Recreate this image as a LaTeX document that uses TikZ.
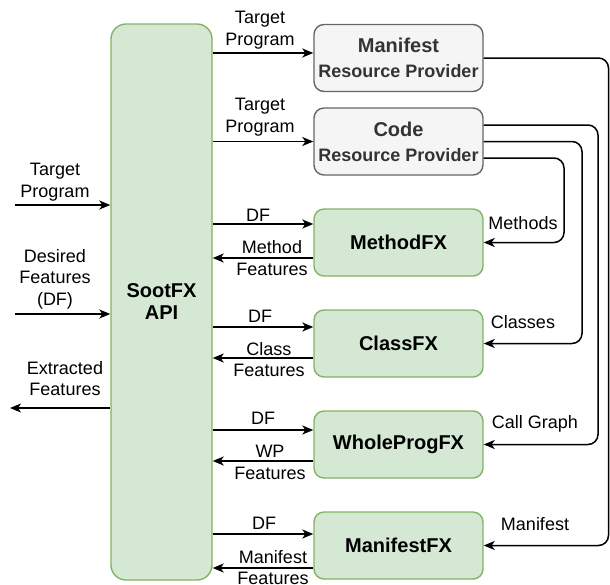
\documentclass[tikz,border=0pt]{standalone}
\usepackage{fontspec}
\setmainfont{Liberation Sans}
\usetikzlibrary{arrows.meta}
\definecolor{gfill}{HTML}{D5E8D4}
\definecolor{gline}{HTML}{82B366}
\definecolor{hfill}{HTML}{F5F5F5}
\definecolor{hline}{HTML}{666666}
\definecolor{htext}{HTML}{333333}
\tikzset{
  greenbox/.style={draw=gline, fill=gfill, line width=1.4pt, rounded corners=10pt, minimum width=169pt, minimum height=67pt, inner sep=0pt, font=\fontsize{20}{24}\selectfont\bfseries},
  greybox/.style={draw=hline, fill=hfill, line width=1.4pt, rounded corners=10pt, minimum width=169pt, minimum height=67pt, inner sep=0pt, text=htext, align=center, font=\fontsize{18}{25}\selectfont\bfseries},
  arr/.style={line width=1.5pt, -{Stealth[length=11pt,width=9pt,inset=3pt]}},
  wire/.style={line width=1.5pt, rounded corners=10pt, -{Stealth[length=11pt,width=9pt,inset=3pt]}},
  lbl/.style={align=center, inner sep=0pt, font=\fontsize{18}{21.5}\selectfont},
}
\begin{document}
\begin{tikzpicture}[x=1pt,y=-1pt]
\useasboundingbox (0,0) rectangle (610,584);
% boxes
\node[draw=gline, fill=gfill, line width=1.4pt, rounded corners=15pt, minimum width=101pt, minimum height=556pt, inner sep=0pt, align=center, font=\fontsize{20}{22}\selectfont\bfseries] (api) at (161.5,302) {SootFX\\API};
\node[greybox] (man) at (398.5,58) {{\fontsize{20}{25}\selectfont Manifest}\\Resource Provider};
\node[greybox] (code) at (398.5,141.5) {{\fontsize{20}{25}\selectfont Code}\\Resource Provider};
\node[greenbox] (meth) at (398.5,242.5) {MethodFX};
\node[greenbox] (cls) at (398.5,343.5) {ClassFX};
\node[greenbox] (whole) at (398.5,444.5) {WholeProgFX};
\node[greenbox] (mfx) at (398.5,545.5) {ManifestFX};
% left free ends
\coordinate (inTP) at (15,205);
\coordinate (inDF) at (15,314);
\coordinate (outEF) at (10,408);
\draw[arr] (inTP) -- (inTP -| api.west);
\draw[arr] (inDF) -- (inDF -| api.west);
\draw[arr] (outEF -| api.west) -- (outEF);
\node[lbl] at (55,182) {Target\\Program};
\node[lbl] at (55,279) {Desired\\Features\\(DF)};
\node[lbl] at (65,378.5) {Extracted\\Features};
% API to providers
\draw[arr] ([yshift=5pt]api.east |- man.west) -- ([yshift=5pt]man.west);
\draw[arr] (api.east |- code.west) -- (code.west);
\node[lbl] at (260,30) {Target\\Program};
\node[lbl] at (260,117) {Target\\Program};
% API <-> FX
\draw[arr] ([yshift=18.5pt]api.east |- meth.west) -- ([yshift=18.5pt]meth.west);
\draw[arr] ([yshift=-15.5pt]meth.west) -- ([yshift=-15.5pt]api.east |- meth.west);
\node[lbl] at (258,215) {DF};
\node[lbl] at (272,258) {Method\\Features};
\draw[arr] ([yshift=16.5pt]api.east |- cls.west) -- ([yshift=16.5pt]cls.west);
\draw[arr] ([yshift=-14.5pt]cls.west) -- ([yshift=-14.5pt]api.east |- cls.west);
\node[lbl] at (260,316) {DF};
\node[lbl] at (269,359.5) {Class\\Features};
\draw[arr] ([yshift=14.5pt]api.east |- whole.west) -- ([yshift=14.5pt]whole.west);
\draw[arr] ([yshift=-16.5pt]whole.west) -- ([yshift=-16.5pt]api.east |- whole.west);
\node[lbl] at (263,418) {DF};
\node[lbl] at (270,462.5) {WP\\Features};
\draw[arr] ([yshift=11.5pt]api.east |- mfx.west) -- ([yshift=11.5pt]mfx.west);
\draw[arr] ([yshift=-22.5pt]mfx.west) -- ([yshift=-22.5pt]api.east |- mfx.west);
\node[lbl] at (264,523) {DF};
\node[lbl] at (273,567.5) {Manifest\\Features};
% providers to FX
\draw[wire] ([yshift=-16.5pt]code.east) -- (564,158) -- (564,242.5) -- (meth.east);
\draw[wire] (code.east) -- (582,141.5) -- (582,343.5) -- (cls.east);
\draw[wire] ([yshift=16.5pt]code.east) -- (598,125) -- (598,444.5) -- (whole.east);
\draw[wire] (man.east) -- (608.5,58) -- (608.5,545.5) -- (mfx.east);
\node[lbl] at (523,223) {Methods};
\node[lbl] at (523,322) {Classes};
\node[lbl] at (535,424) {Call Graph};
\node[lbl] at (535,524) {Manifest};
\end{tikzpicture}
\end{document}
